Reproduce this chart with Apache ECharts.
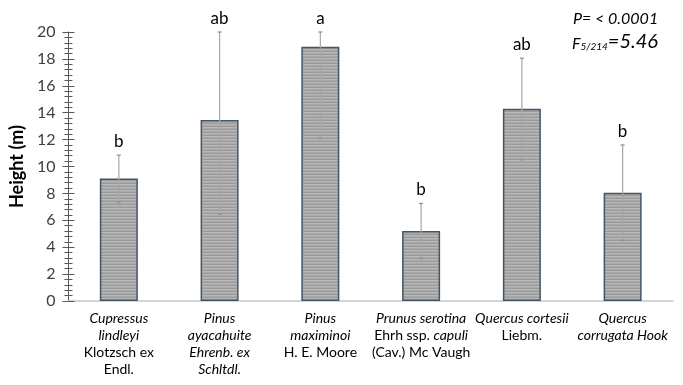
<!DOCTYPE html>
<html><head><meta charset="utf-8">
<script src="https://cdn.jsdelivr.net/npm/echarts@6/dist/echarts.min.js"></script>
<style>html,body{margin:0;padding:0;background:#fff}#c{width:683px;height:385px}</style>
</head><body><div id="c"></div>
<script>
const categories = ['Cupressus lindleyi', 'Pinus ayacahuite', 'Pinus maximinoi', 'Prunus serotina', 'Quercus cortesii', 'Quercus corrugata'];
const categoryLabels = [
  '{i|Cupressus}\n{i|lindleyi}\n{n|Klotzsch ex}\n{n|Endl.}',
  '{i|Pinus}\n{i|ayacahuite}\n{i|Ehrenb. ex}\n{i|Schltdl.}',
  '{i|Pinus}\n{i|maximinoi}\n{n|H. E. Moore}',
  '{i|Prunus serotina}\n{n|Ehrh ssp. }{i|capuli}\n{n|(Cav.) Mc Vaugh}',
  '{i|Quercus cortesii}\n{n|Liebm.}',
  '{i|Quercus}\n{i|corrugata Hook}'
];
const heights = [9.1, 13.45, 18.9, 5.2, 14.3, 8.05];
const errLow = [7.35, 6.45, 12.1, 3.15, 10.5, 4.5];
const errHigh = [10.85, 20, 20, 7.25, 18.05, 11.6];
const letters = ['b', 'ab', 'a', 'b', 'ab', 'b'];
const yTicks = [0, 2, 4, 6, 8, 10, 12, 14, 16, 18, 20];

// striped fill pattern
const pc = document.createElement('canvas');
pc.width = 4; pc.height = 3;
const px = pc.getContext('2d');
px.fillStyle = '#b8b8b8'; px.fillRect(0, 0, 4, 3);
px.fillStyle = '#9a9a9a'; px.fillRect(0, 0, 4, 1);
px.fillStyle = '#a9a9a9'; px.fillRect(0, 2, 4, 1);

const font = 'Lato, "Open Sans", sans-serif';
const chart = echarts.init(document.getElementById('c'));
chart.setOption({
  animation: false,
  grid: { left: 67, right: 10, top: 32, bottom: 84 },
  xAxis: {
    type: 'category', data: categories,
    axisLine: { lineStyle: { color: '#c8c8c8', width: 1.5 } },
    axisTick: { show: false },
    axisLabel: {
      interval: 0, margin: 9,
      formatter: (v, i) => categoryLabels[i],
      rich: {
        i: { fontFamily: font, fontStyle: 'italic', fontSize: 14, color: '#000', lineHeight: 17 },
        n: { fontFamily: font, fontSize: 14, color: '#000', lineHeight: 17 }
      }
    }
  },
  yAxis: [{
    type: 'value', min: 0, max: 20, interval: 2,
    name: 'Height (m)', nameLocation: 'middle', nameGap: 40,
    nameTextStyle: { fontFamily: font, fontWeight: 'bold', fontSize: 18, color: '#000' },
    axisLine: { show: true, lineStyle: { color: '#595959', width: 1 } },
    axisTick: { show: true, length: 6, lineStyle: { color: '#595959' } },
    minorTick: { show: true, splitNumber: 5, length: 4, lineStyle: { color: '#595959' } },
    splitLine: { show: false },
    axisLabel: { fontFamily: font, fontSize: 16, color: '#404040', margin: 13,
      formatter: v => yTicks.indexOf(v) >= 0 ? String(v) : '' }
  }, {
    type: 'value', min: 0, max: 20, interval: 2, position: 'left', offset: 0,
    axisLine: { show: false },
    axisTick: { show: true, inside: true, length: 6, lineStyle: { color: '#595959' } },
    minorTick: { show: true, splitNumber: 5, length: 4, lineStyle: { color: '#595959' } },
    splitLine: { show: false }, axisLabel: { show: false }
  }],
  series: [{
    type: 'bar', data: heights, barWidth: 38, yAxisIndex: 0,
    itemStyle: { color: { image: pc, repeat: 'repeat' }, borderColor: '#44546a', borderWidth: 1.5 },
    z: 2
  }, {
    type: 'custom', yAxisIndex: 0, z: 5,
    data: heights.map((h, i) => [i, errLow[i], errHigh[i]]),
    renderItem: (params, api) => {
      const x = api.coord([api.value(0), 0])[0];
      const lo = api.coord([api.value(0), api.value(1)])[1];
      const hi = api.coord([api.value(0), api.value(2)])[1];
      const st = { stroke: '#a6a6a6', lineWidth: 1.2 };
      const cap = { stroke: '#8c8c8c', lineWidth: 1.2 };
      return { type: 'group', children: [
        { type: 'line', shape: { x1: x, y1: lo, x2: x, y2: hi }, style: st },
        { type: 'line', shape: { x1: x - 2, y1: lo, x2: x + 2, y2: lo }, style: cap },
        { type: 'line', shape: { x1: x - 2, y1: hi, x2: x + 2, y2: hi }, style: cap },
        { type: 'text', x: x, y: hi - 5, style: { text: letters[params.dataIndex], textAlign: 'center', textVerticalAlign: 'bottom', fontFamily: font, fontSize: 17, fill: '#000' } }
      ]};
    }
  }],
  graphic: [{
    type: 'text', left: 573, top: 11,
    style: { text: 'P= < 0.0001', fontFamily: font, fontStyle: 'italic', fontSize: 16, fill: '#000' }
  }, {
    type: 'text', left: 572, top: 32,
    style: { text: '{f|F}{s|5/214}{e|=5.46}', rich: {
      f: { fontFamily: font, fontStyle: 'italic', fontSize: 16, fill: '#000', verticalAlign: 'bottom' },
      s: { fontFamily: font, fontStyle: 'italic', fontSize: 10, fill: '#000', verticalAlign: 'bottom' },
      e: { fontFamily: font, fontStyle: 'italic', fontSize: 20, fill: '#000', verticalAlign: 'bottom' }
    } }
  }]
});
</script>
</body></html>
